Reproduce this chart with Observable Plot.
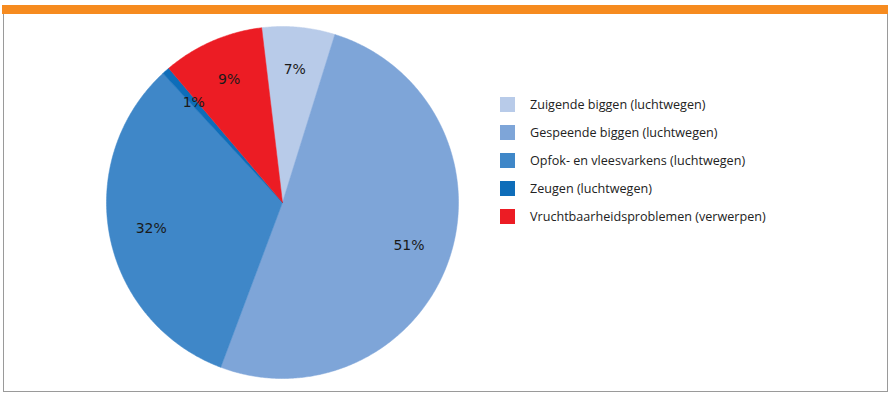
<!DOCTYPE html>
<html><head><meta charset="utf-8">
<script src="https://cdn.jsdelivr.net/npm/d3@7"></script>
<script src="https://cdn.jsdelivr.net/npm/@observablehq/plot@0.6"></script>
<style>
body{margin:0;background:#fff;width:891px;height:399px;position:relative;overflow:hidden;}
#bar{position:absolute;left:2px;top:5px;width:886px;height:9px;background:#f68b1f}
#frame{position:absolute;left:3px;top:14px;width:883px;height:377px;border:1px solid #9a9a9a;border-top:none;pointer-events:none}
#chart{position:absolute;left:0;top:0}
#legend{position:absolute;left:500px;top:90px;font-family:"Open Sans",sans-serif;font-size:12.6px;color:#222}
.row{display:flex;align-items:center;height:28.2px;white-space:nowrap}
.sw{width:15px;height:15px;margin-right:15px;flex:none}
</style></head>
<body>
<div id="chart"></div>
<div id="bar"></div>
<div id="frame"></div>
<div id="legend"></div>
<script>
const categories = [
  "Zuigende biggen (luchtwegen)",
  "Gespeende biggen (luchtwegen)",
  "Opfok- en vleesvarkens (luchtwegen)",
  "Zeugen (luchtwegen)",
  "Vruchtbaarheidsproblemen (verwerpen)"
];
const values = [6.7, 50.9, 32.4, 0.7, 9.3];
const labels = ["7%", "51%", "32%", "1%", "9%"];
const colors = ["#b8cbe9", "#7ea5d8", "#3f87c8", "#0e6db9", "#ec1c24"];

const startDeg = -6.8;
const labelR = 0.76;
const total = d3.sum(values);
let acc = 0;
const slices = categories.map((c, i) => {
  const a0 = startDeg + acc / total * 360;
  acc += values[i];
  const a1 = startDeg + acc / total * 360;
  const am = (a0 + a1) / 2 * Math.PI / 180;
  return {c, a0, a1, label: labels[i], lx: labelR * Math.sin(am), ly: labelR * Math.cos(am)};
});
const pts = slices.flatMap(s => {
  const n = Math.max(2, Math.ceil((s.a1 - s.a0) / 0.5));
  const arc = d3.range(n + 1).map(k => {
    const a = (s.a0 + (s.a1 - s.a0) * k / n) * Math.PI / 180;
    return {c: s.c, x: Math.sin(a), y: Math.cos(a)};
  });
  return [{c: s.c, x: 0, y: 0}, ...arc, {c: s.c, x: 0, y: 0}];
});

const chart = Plot.plot({
  width: 891, height: 399,
  marginLeft: 106, marginRight: 433, marginTop: 26, marginBottom: 21,
  style: {background: "transparent", overflow: "visible"},
  x: {domain: [-1, 1], axis: null},
  y: {domain: [-1, 1], axis: null},
  color: {domain: categories, range: colors},
  marks: [
    Plot.line(pts, {x: "x", y: "y", z: "c", fill: "c", stroke: "c", strokeWidth: 0.5}),
    Plot.text(slices, {x: "lx", y: "ly", text: "label", fontSize: 14,
      fontFamily: "DejaVu Sans, sans-serif", fill: "#1a1a1a"})
  ]
});
document.getElementById("chart").append(chart);

const legend = d3.select("#legend");
categories.forEach((c, i) => {
  const row = legend.append("div").attr("class", "row");
  row.append("div").attr("class", "sw").style("background", colors[i]);
  row.append("span").text(c);
});
</script>
</body></html>
